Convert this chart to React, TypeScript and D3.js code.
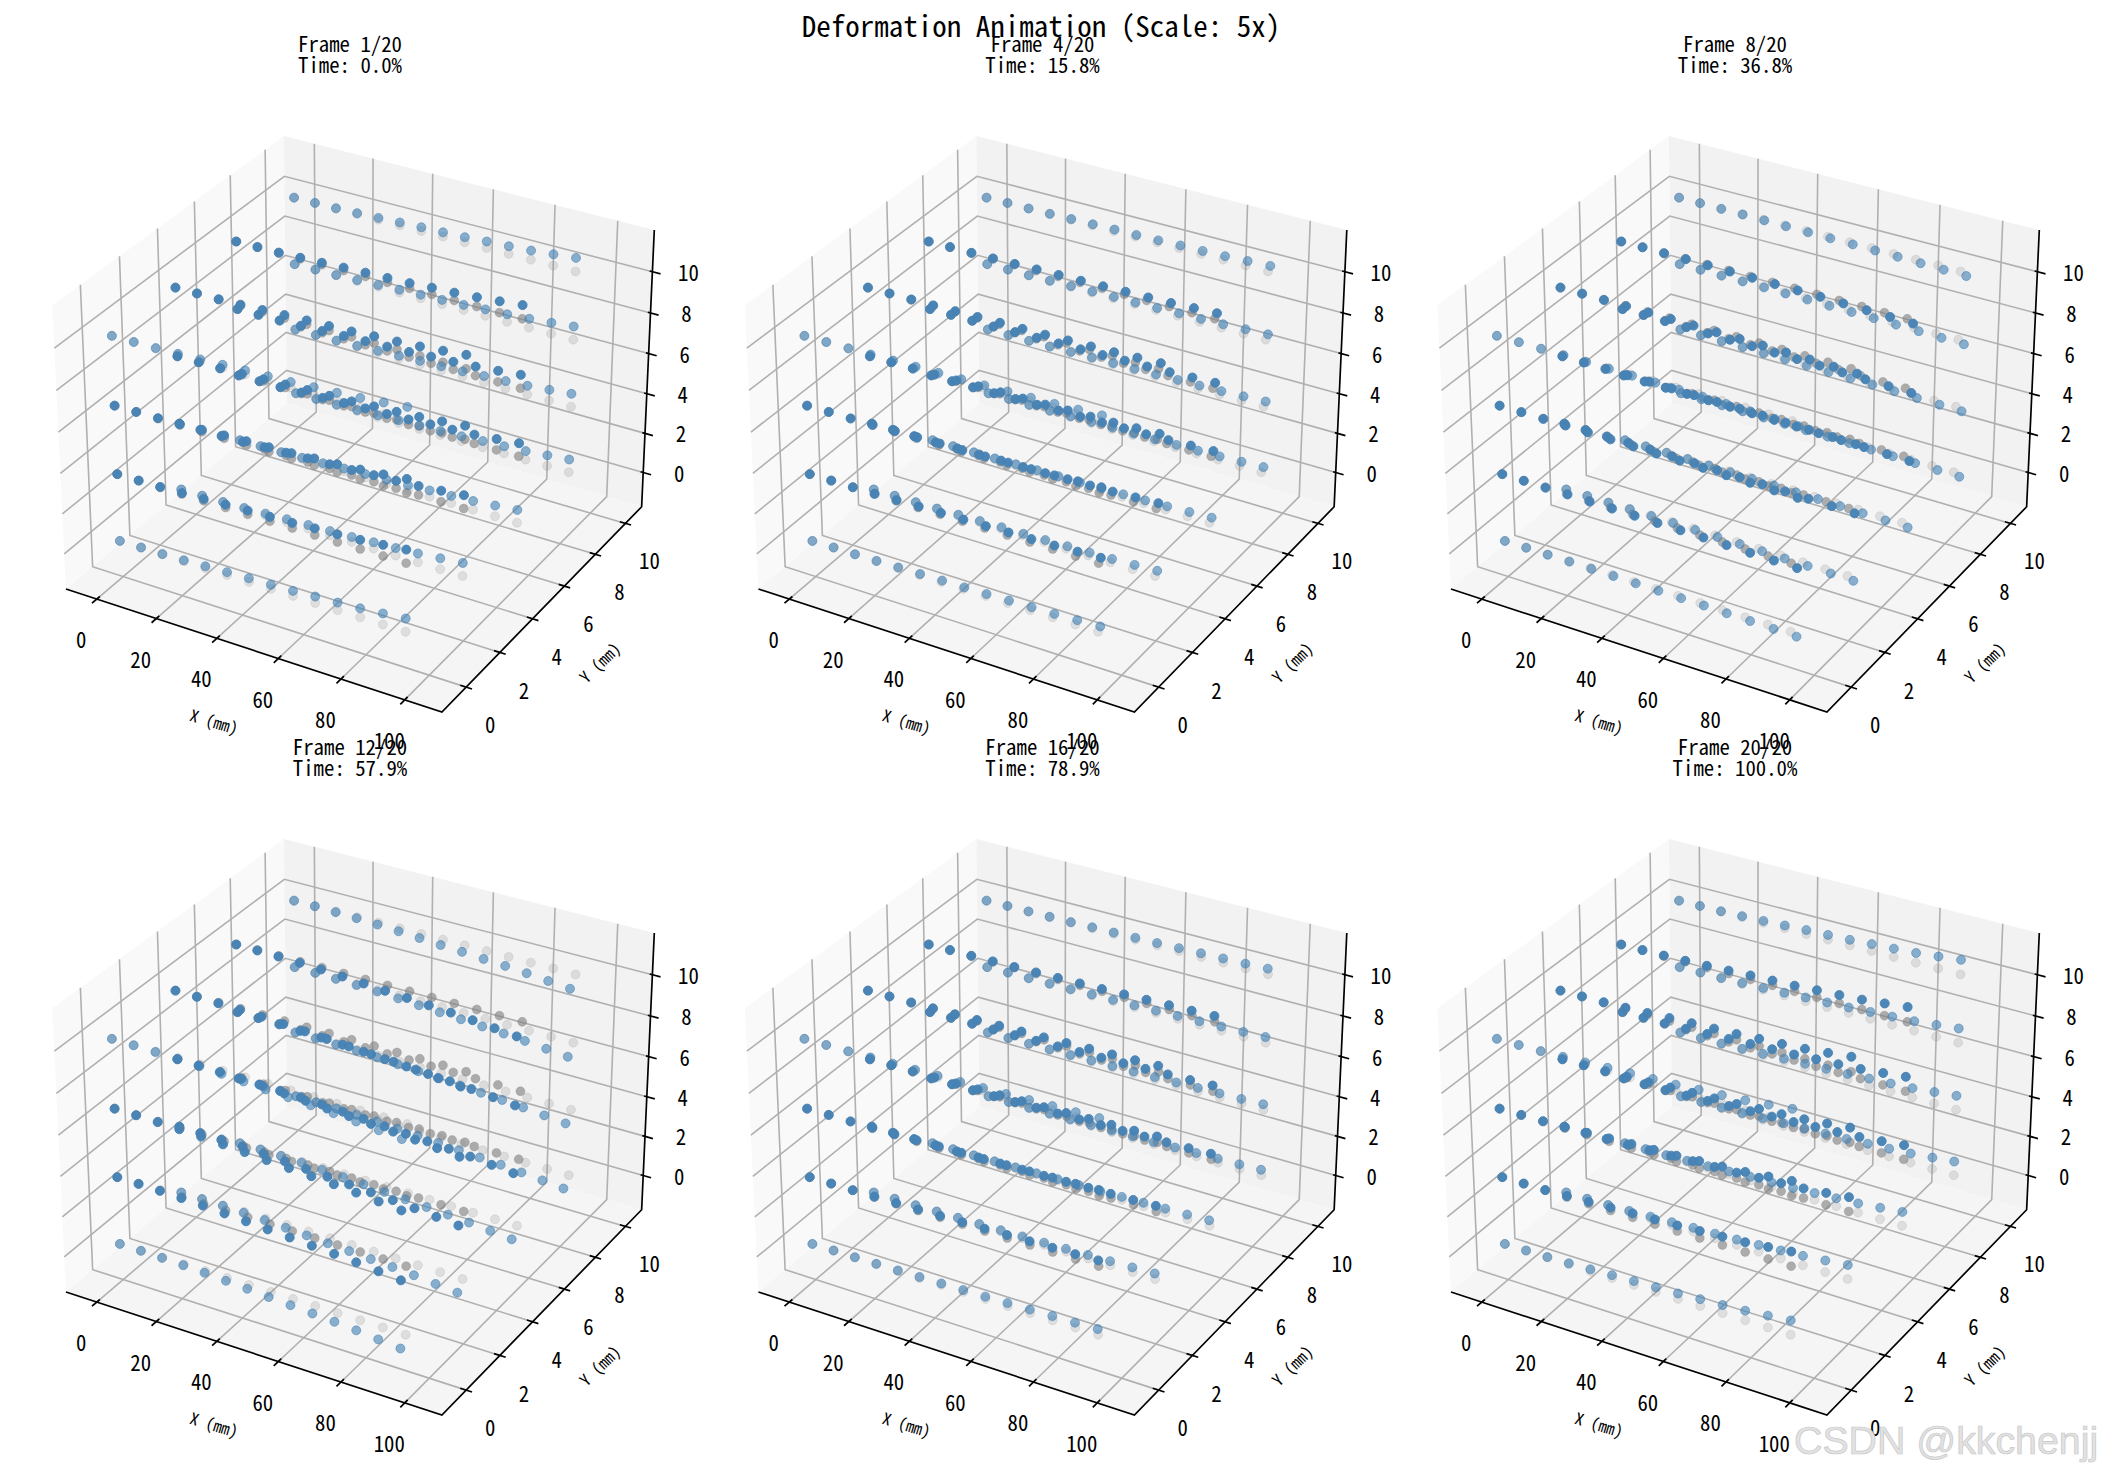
// App.tsx - deformation frames on a 3D lattice
import React from 'react';
import * as d3 from 'd3';

const xStations = [-0.7, 6.47, 13.64, 20.81, 27.98, 35.15, 42.32, 49.49, 56.66, 63.83, 71.0, 78.17, 85.34, 92.5];
const yLevels = [0, 3.33, 6.67, 10];
const zLevels = [0, 3.33, 6.67, 10];

// rows (y index, z index) that print lighter in the reference
const lightRows = ['0-0', '1-0', '2-0', '3-0', '3-1', '3-2', '3-3', '0-3'];

const xTicks = [0, 20, 40, 60, 80, 100];
const yTicks = [0, 2, 4, 6, 8, 10];
const zTicks = [0, 2, 4, 6, 8, 10];

const frameTitles = ['Frame 1/20', 'Frame 4/20', 'Frame 8/20', 'Frame 12/20', 'Frame 16/20', 'Frame 20/20'];
const timeTitles = ['Time: 0.0%', 'Time: 15.8%', 'Time: 36.8%', 'Time: 57.9%', 'Time: 78.9%', 'Time: 100.0%'];

// displacement of the stations along x (mm)
const dxFrame1 = [0, 0, 0, 0, 0, 0, 0, 0, 0, 0, 0, 0, 0, 0];
const dxFrame4 = [0, 0.02, 0.05, 0.08, 0.13, 0.18, 0.24, 0.3, 0.34, 0.4, 0.46, 0.52, 0.59, 0.65];
const dxFrame8 = [0, 0.05, 0.12, 0.2, 0.3, 0.43, 0.6, 0.8, 1.0, 1.15, 1.3, 1.55, 1.8, 1.85];
const dxFrame12 = [0, -0.05, -0.12, -0.2, -0.3, -0.4, -0.58, -0.75, -0.85, -0.95, -1.05, -1.25, -1.45, -1.6];
const dxFrame16 = [0, 0, 0, -0.01, -0.02, -0.03, -0.04, -0.05, -0.07, -0.08, -0.1, -0.11, -0.13, -0.15];
const dxFrame20 = [0, 0, 0, 0, 0, 0, 0, 0, 0, 0, 0, 0, 0, 0];
const dxFrames = [dxFrame1, dxFrame4, dxFrame8, dxFrame12, dxFrame16, dxFrame20];

// displacement of the stations along z (mm)
const dzFrame1 = [0, 0.01, 0.02, 0.05, 0.09, 0.14, 0.18, 0.21, 0.25, 0.32, 0.37, 0.44, 0.54, 0.65];
const dzFrame4 = [0, 0.01, 0.01, 0.02, 0.04, 0.06, 0.08, 0.09, 0.11, 0.14, 0.16, 0.19, 0.24, 0.29];
const dzFrame8 = [0, 0, -0.01, -0.01, -0.02, -0.03, -0.04, -0.05, -0.06, -0.07, -0.09, -0.11, -0.13, -0.15];
const dzFrame12 = [0, -0.01, -0.03, -0.06, -0.1, -0.16, -0.22, -0.29, -0.35, -0.42, -0.48, -0.56, -0.66, -0.76];
const dzFrame16 = [0, 0.01, 0.01, 0.02, 0.03, 0.05, 0.07, 0.09, 0.11, 0.14, 0.17, 0.2, 0.23, 0.27];
const dzFrame20 = [0, 0.01, 0.02, 0.05, 0.09, 0.14, 0.19, 0.23, 0.27, 0.34, 0.4, 0.47, 0.58, 0.7];
const dzFrames = [dzFrame1, dzFrame4, dzFrame8, dzFrame12, dzFrame16, dzFrame20];

const panelCols = [0, 692.5, 1385];
const panelRows = [0, 703];

const FONT = '"Noto Sans CJK SC", "Liberation Sans", sans-serif';
const GRID = '#b0b0b0';
const BLUE = 'steelblue';
const DOT = 4.5;

// data limits -> unit cube
const xUnit = d3.scaleLinear().domain([-10.5, 111.5]).range([0, 1]);
const yUnit = d3.scaleLinear().domain([-1.4, 11.1]).range([0, 1]);
const zUnit = d3.scaleLinear().domain([-1.77, 12]).range([0, 1]);

// same camera as mplot3d: elev 30, azim -60, box 4:4:3, dist 10
const box = [4, 4, 3].map(d => d * 0.29762);
const el = (30 * Math.PI) / 180;
const az = (-60 * Math.PI) / 180;
const dist = 10;
const w = [Math.cos(el) * Math.cos(az), Math.cos(el) * Math.sin(az), Math.sin(el)];
const eye = [0, 1, 2].map(i => box[i] / 2 + dist * w[i]);
const uLen = Math.hypot(w[0], w[1]);
const u = [-w[1] / uLen, w[0] / uLen, 0];
const v = [w[1] * u[2] - w[2] * u[1], w[2] * u[0] - w[0] * u[2], w[0] * u[1] - w[1] * u[0]];

function camera(a: number, b: number, c: number): [number, number] {
    const p = [a * box[0] - eye[0], b * box[1] - eye[1], c * box[2] - eye[2]];
    const X = u[0] * p[0] + u[1] * p[1] + u[2] * p[2];
    const Y = v[0] * p[0] + v[1] * p[1] + v[2] * p[2];
    const Z = w[0] * p[0] + w[1] * p[1] + w[2] * p[2];
    return [X / -Z, Y / -Z];
}

// camera plane -> page px, pinned on the box corners of the first panel
const pageX = d3.scaleLinear().domain([camera(0, 0, 1)[0], camera(1, 1, 1)[0]]).range([52.3, 654.3]);
const pageY = d3.scaleLinear().domain([camera(1, 0, 0)[1], camera(0, 1, 1)[1]]).range([712, 136]);

function unitToPage(a: number, b: number, c: number): [number, number] {
    const [cx, cy] = camera(a, b, c);
    return [pageX(cx), pageY(cy)];
}

const dataToPage = (x: number, y: number, z: number) => unitToPage(xUnit(x), yUnit(y), zUnit(z));

const linePath = d3.line<[number, number]>();

// half-width latin of the CJK face, stretched a little taller for the tick digits
const Label: React.FC<{ x: number; y: number; text: string; size?: number; perChar?: number; rotate?: number; middle?: boolean }> = ({
    x, y, text, size = 20.8, perChar = 10.4, rotate = 0, middle = true,
}) => (
    <text
        x={x}
        y={y}
        dy={middle ? '0.36em' : undefined}
        textAnchor="middle"
        fontFamily={FONT}
        fontSize={size}
        style={{ fontFeatureSettings: '"hwid"' }}
        textLength={perChar * text.length}
        lengthAdjust="spacingAndGlyphs"
        transform={rotate ? `rotate(${rotate} ${x} ${y})` : undefined}
        fill="#000"
    >
        {text}
    </text>
);

const Panel: React.FC<{ index: number }> = ({ index }) => {
    const tx = panelCols[index % 3];
    const ty = panelRows[Math.floor(index / 3)];
    const dxs = dxFrames[index];
    const dzs = dzFrames[index];

    const poly = (pts: [number, number, number][]) =>
        linePath(pts.map(p => unitToPage(p[0], p[1], p[2]))) + 'Z';

    const rows: { j: number; k: number; light: boolean }[] = [];
    yLevels.forEach((_, j) => zLevels.forEach((_, k) => rows.push({ j, k, light: lightRows.includes(`${j}-${k}`) })));
    rows.sort((a, b) => b.j - a.j || a.k - b.k);

    return (
        <g transform={`translate(${tx},${ty})`}>
            <path d={poly([[0, 0, 0], [0, 1, 0], [0, 1, 1], [0, 0, 1]])} fill="#f9f9f9" />
            <path d={poly([[0, 1, 0], [1, 1, 0], [1, 1, 1], [0, 1, 1]])} fill="#f2f2f2" />
            <path d={poly([[0, 0, 0], [1, 0, 0], [1, 1, 0], [0, 1, 0]])} fill="#f5f5f5" />

            <g fill="none" stroke={GRID} strokeWidth={1.6}>
                {xTicks.map(t => (
                    <path key={t} d={linePath([unitToPage(xUnit(t), 0, 0), unitToPage(xUnit(t), 1, 0), unitToPage(xUnit(t), 1, 1)]) ?? ''} />
                ))}
                {yTicks.map(t => (
                    <path key={t} d={linePath([unitToPage(1, yUnit(t), 0), unitToPage(0, yUnit(t), 0), unitToPage(0, yUnit(t), 1)]) ?? ''} />
                ))}
                {zTicks.map(t => (
                    <path key={t} d={linePath([unitToPage(0, 0, zUnit(t)), unitToPage(0, 1, zUnit(t)), unitToPage(1, 1, zUnit(t))]) ?? ''} />
                ))}
            </g>

            {rows.map(({ j, k, light }) => (
                <g key={`g${j}-${k}`} fill="gray" fillOpacity={light ? 0.2 : 0.62} stroke="gray" strokeOpacity={light ? 0.15 : 0.3}>
                    {xStations.map(x => {
                        const [px, py] = dataToPage(x, yLevels[j], zLevels[k]);
                        return <circle key={x} cx={px} cy={py} r={DOT} />;
                    })}
                </g>
            ))}
            {rows.map(({ j, k, light }) => (
                <g key={`b${j}-${k}`} fill={BLUE} fillOpacity={light ? 0.62 : 0.96} stroke={BLUE} strokeOpacity={light ? 0.55 : 0.9}>
                    {xStations.map((x, i) => {
                        const [px, py] = dataToPage(x + dxs[i], yLevels[j], zLevels[k] + dzs[i]);
                        return <circle key={x} cx={px} cy={py} r={DOT} />;
                    })}
                </g>
            ))}

            <path d={linePath([unitToPage(0, 0, 0), unitToPage(1, 0, 0), unitToPage(1, 1, 0), unitToPage(1, 1, 1)]) ?? ''} fill="none" stroke="#000" strokeWidth={1.7} />

            <g stroke="#000" strokeWidth={1.7}>
                {xTicks.map(t => (
                    <line
                        key={t}
                        x1={unitToPage(xUnit(t), -0.02, 0)[0]}
                        y1={unitToPage(xUnit(t), -0.02, 0)[1]}
                        x2={unitToPage(xUnit(t), 0.013, 0)[0]}
                        y2={unitToPage(xUnit(t), 0.013, 0)[1]}
                    />
                ))}
                {yTicks.map(t => (
                    <line
                        key={t}
                        x1={unitToPage(0.985, yUnit(t), 0)[0]}
                        y1={unitToPage(0.985, yUnit(t), 0)[1]}
                        x2={unitToPage(1.015, yUnit(t), 0)[0]}
                        y2={unitToPage(1.015, yUnit(t), 0)[1]}
                    />
                ))}
                {zTicks.map(t => (
                    <line
                        key={t}
                        x1={unitToPage(0.993, 1, zUnit(t))[0]}
                        y1={unitToPage(0.993, 1, zUnit(t))[1]}
                        x2={unitToPage(1.021, 1, zUnit(t))[0]}
                        y2={unitToPage(1.021, 1, zUnit(t))[1]}
                    />
                ))}
            </g>

            {xTicks.map(t => {
                const [px, py] = unitToPage(xUnit(t), 0, 0);
                return <Label key={t} x={px - 15.5} y={py + 41} text={String(t)} size={22.5} />;
            })}
            {yTicks.map(t => {
                const [px, py] = unitToPage(1, yUnit(t), 0);
                return <Label key={t} x={px + 24} y={py + 38} text={String(t)} size={22.5} />;
            })}
            {zTicks.map(t => {
                const [px, py] = unitToPage(1, 1, zUnit(t));
                return <Label key={t} x={px + 36} y={py + 1} text={String(t)} size={22.5} />;
            })}

            <Label x={214} y={722} text="X (mm)" size={16.4} perChar={8.2} rotate={17} />
            <Label x={600} y={663} text="Y (mm)" size={16.4} perChar={8.2} rotate={-44} />

            <Label x={350} y={52} text={frameTitles[index]} middle={false} />
            <Label x={350} y={73} text={timeTitles[index]} middle={false} />
        </g>
    );
};

const App: React.FC = () => {
    const title = 'Deformation Animation (Scale: 5x)';
    return (
        <svg width={2102} height={1473} style={{ position: 'absolute', left: 0, top: 0, background: '#fff' }}>
            {frameTitles.map((_, i) => (
                <Panel key={i} index={i} />
            ))}
            <Label x={1041} y={37} text={title} size={29} perChar={14.5} middle={false} />
            <text x={1794} y={1454} fontFamily='"Liberation Sans", sans-serif' fontSize={39.3} fill="#e2e2e2" stroke="#c8c8c8" strokeWidth={0.7}>
                CSDN @kkchenjj
            </text>
        </svg>
    );
};

export default App;
